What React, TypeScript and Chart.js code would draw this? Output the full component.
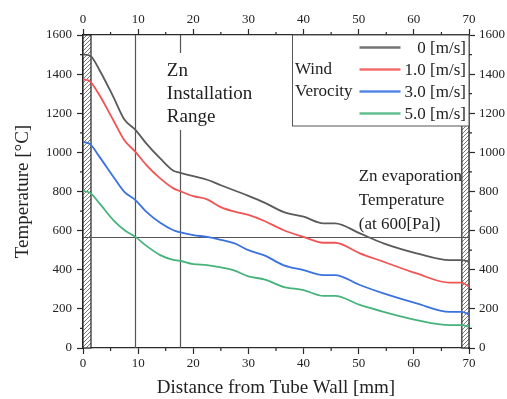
import React, { useEffect, useRef } from 'react';
import { Chart, registerables } from 'chart.js';

Chart.register(...registerables);

// ---- data ----
const distance = [0, 1.3, 3, 5.5, 7.5, 9.5, 11.5, 14, 16.4, 17.5, 20, 22.5, 25, 27.5, 30, 33, 36.3, 40, 43.6, 45.7, 50.2, 54.5, 60.5, 66.5, 68.7, 70];
const wind0 = [1500, 1494, 1420, 1284, 1168, 1115, 1045, 969, 906, 897, 878, 860, 832, 805, 778, 742, 696, 671, 637, 637, 586, 535, 484, 449, 449, 441];
const wind1 = [1374, 1362, 1292, 1164, 1062, 1003, 935, 867, 816, 803, 776, 760, 720, 697, 680, 648, 603, 568, 538, 538, 484, 441, 381, 334, 334, 313];
const wind3 = [1054, 1042, 977, 875, 798, 756, 696, 640, 602, 592, 577, 568, 553, 535, 500, 472, 424, 398, 373, 373, 322, 279, 228, 185, 185, 172];
const wind5 = [803, 793, 739, 654, 603, 568, 522, 475, 450, 446, 429, 424, 412, 395, 366, 350, 313, 296, 266, 266, 220, 185, 143, 117, 117, 109];
const seriesLabels = ['0 [m/s]', '1.0 [m/s]', '3.0 [m/s]', '5.0 [m/s]'];
const seriesValues = [wind0, wind1, wind3, wind5];
const seriesColors = ['#5a5a5a', '#f25454', '#3a72e0', '#46b47a'];

const installationRange = [9.5, 17.5];
const evaporationTemp = 568;
const wallLeft = [0, 1.45];
const wallRight = [68.7, 70];
const xMinorTicks = [5, 15, 25, 35, 45, 55, 65];
const yMinorTicks = [100, 300, 500, 700, 900, 1100, 1300, 1500];

const installLabel = ['Zn', 'Installation', 'Range'];
const evapLabel = ['Zn evaporation', 'Temperature', '(at 600[Pa])'];
const legendTitle = ['Wind', 'Verocity'];

const FONT = '"Liberation Serif", "Times New Roman", serif';
const AXIS = '#2a2a2a';

const decor = {
  id: 'decor',
  beforeDatasetsDraw(chart: any) {
    const { ctx, chartArea: a, scales } = chart;
    const x = scales.x;
    const y = scales.y;
    ctx.save();
    // evaporation text (under hatch)
    ctx.font = `17px ${FONT}`;
    ctx.fillStyle = '#222';
    ctx.textBaseline = 'middle';
    ctx.textAlign = 'left';
    const ex = x.getPixelForValue(50);
    evapLabel.forEach((t, i) => ctx.fillText(t, ex, a.top + 142 + i * 24));

    // hatched walls
    [wallLeft, wallRight].forEach((w) => {
      const x0 = x.getPixelForValue(w[0]);
      const x1 = x.getPixelForValue(w[1]);
      ctx.save();
      ctx.fillStyle = '#fff';
      ctx.fillRect(x0, a.top, x1 - x0, a.bottom - a.top);
      ctx.beginPath();
      ctx.rect(x0, a.top, x1 - x0, a.bottom - a.top);
      ctx.clip();
      ctx.strokeStyle = '#555';
      ctx.lineWidth = 0.8;
      ctx.beginPath();
      for (let yy = a.top - 20; yy < a.bottom + 20; yy += 4) {
        ctx.moveTo(x0, yy + (x1 - x0));
        ctx.lineTo(x1, yy);
      }
      ctx.stroke();
      ctx.restore();
      ctx.strokeStyle = '#222';
      ctx.lineWidth = 1.2;
      ctx.strokeRect(x0, a.top, x1 - x0, a.bottom - a.top);
    });

    // reference lines
    ctx.strokeStyle = '#555';
    ctx.lineWidth = 1.2;
    ctx.beginPath();
    installationRange.forEach((v) => {
      const px = Math.round(x.getPixelForValue(v)) + 0.5;
      ctx.moveTo(px, a.top);
      ctx.lineTo(px, a.bottom);
    });
    const py = Math.round(y.getPixelForValue(evaporationTemp)) + 0.5;
    ctx.moveTo(a.left, py);
    ctx.lineTo(a.right, py);
    ctx.stroke();

    // installation label with white backdrop
    ctx.font = `19px ${FONT}`;
    const ix = x.getPixelForValue(15.2);
    const w = Math.max(...installLabel.map((t) => ctx.measureText(t).width));
    ctx.fillStyle = '#fff';
    ctx.fillRect(ix - 3, a.top + 18, w + 6, 77);
    ctx.fillStyle = '#222';
    installLabel.forEach((t, i) => ctx.fillText(t, ix, a.top + 36 + i * 23));
    ctx.restore();
  },
  afterDatasetsDraw(chart: any) {
    const { ctx, chartArea: a } = chart;
    ctx.save();
    // legend box
    const bx = Math.round(a.left + 209) + 0.5;
    const by = a.top;
    const bw = a.right - bx;
    const bh = 91;
    ctx.fillStyle = '#fff';
    ctx.fillRect(bx, by, bw, bh);
    ctx.strokeStyle = '#555';
    ctx.lineWidth = 1;
    ctx.strokeRect(bx, by, bw, bh);
    ctx.font = `17px ${FONT}`;
    ctx.fillStyle = '#222';
    ctx.textBaseline = 'middle';
    ctx.textAlign = 'left';
    legendTitle.forEach((t, i) => ctx.fillText(t, bx + 2.5, by + 35 + i * 22));
    chart.data.datasets.forEach((ds: any, i: number) => {
      const ry = by + 12.5 + i * 22;
      ctx.strokeStyle = ds.borderColor;
      ctx.lineWidth = 2.5;
      ctx.globalAlpha = 0.85;
      ctx.beginPath();
      ctx.moveTo(bx + 67, ry);
      ctx.lineTo(bx + 108, ry);
      ctx.stroke();
      ctx.globalAlpha = 1;
      ctx.textAlign = 'right';
      ctx.fillStyle = '#222';
      ctx.fillText(ds.label, a.right - 3, ry + 1);
    });
    ctx.restore();
  },
  afterDraw(chart: any) {
    const { ctx, chartArea: a, scales } = chart;
    ctx.save();
    ctx.strokeStyle = AXIS;
    ctx.lineWidth = 1.2;
    ctx.beginPath();
    xMinorTicks.forEach((v) => {
      const px = scales.x.getPixelForValue(v);
      ctx.moveTo(px, a.bottom);
      ctx.lineTo(px, a.bottom + 3);
      ctx.moveTo(px, a.top);
      ctx.lineTo(px, a.top - 3);
    });
    yMinorTicks.forEach((v) => {
      const py = scales.y.getPixelForValue(v);
      ctx.moveTo(a.left, py);
      ctx.lineTo(a.left - 3, py);
      ctx.moveTo(a.right, py);
      ctx.lineTo(a.right + 3, py);
    });
    ctx.stroke();
    ctx.restore();
  },
};

const tickFont = { family: FONT, size: 13 };
const titleFont = { family: FONT, size: 19 };
const grid = { drawOnChartArea: false, drawTicks: true, tickLength: 6, tickColor: AXIS, tickWidth: 1.2 };
const border = { color: AXIS, width: 1.3 };
const plain = (v: any) => String(v);

export default function App() {
  const ref = useRef<HTMLCanvasElement>(null);
  useEffect(() => {
    document.body.style.margin = '0';
    const chart = new Chart(ref.current as HTMLCanvasElement, {
      type: 'line',
      data: {
        datasets: seriesValues.map((vals, i) => ({
          label: seriesLabels[i],
          data: distance.map((d, j) => ({ x: d, y: vals[j] })),
          borderColor: seriesColors[i],
          backgroundColor: seriesColors[i],
          borderWidth: 1.8,
          pointRadius: 0,
          cubicInterpolationMode: 'monotone' as const,
        })),
      },
      options: {
        animation: false,
        responsive: false,
        devicePixelRatio: 1,
        layout: { padding: 0 },
        plugins: { legend: { display: false }, tooltip: { enabled: false } },
        scales: {
          x: {
            type: 'linear',
            position: 'bottom',
            min: 0,
            max: 70,
            ticks: { stepSize: 10, font: tickFont, color: '#222', padding: 2, callback: plain },
            grid,
            border,
            title: { display: true, text: 'Distance from Tube Wall [mm]', font: titleFont, color: '#222', padding: { top: 0, bottom: 0 } },
            afterFit: (s: any) => { s.height = 51; },
          },
          x2: {
            type: 'linear',
            axis: 'x',
            position: 'top',
            min: 0,
            max: 70,
            ticks: { stepSize: 10, font: tickFont, color: '#222', padding: 2, callback: plain },
            grid,
            border,
            afterFit: (s: any) => { s.height = 35; },
          },
          y: {
            type: 'linear',
            position: 'left',
            min: 0,
            max: 1600,
            ticks: { stepSize: 200, font: tickFont, color: '#222', padding: 5, callback: plain },
            grid,
            border,
            title: { display: true, text: 'Temperature [°C]', font: titleFont, color: '#222', padding: { top: 12, bottom: 0 } },
            afterFit: (s: any) => { s.width = 83; },
          },
          y2: {
            type: 'linear',
            axis: 'y',
            position: 'right',
            min: 0,
            max: 1600,
            ticks: { stepSize: 200, font: tickFont, color: '#222', padding: 4, callback: plain },
            grid,
            border,
            afterFit: (s: any) => { s.width = 38; },
          },
        },
      } as any,
      plugins: [decor],
    });
    return () => chart.destroy();
  }, []);
  return (
    <div style={{ width: 507, height: 399 }}>
      <canvas ref={ref} width={507} height={399} style={{ display: 'block' }} />
    </div>
  );
}
